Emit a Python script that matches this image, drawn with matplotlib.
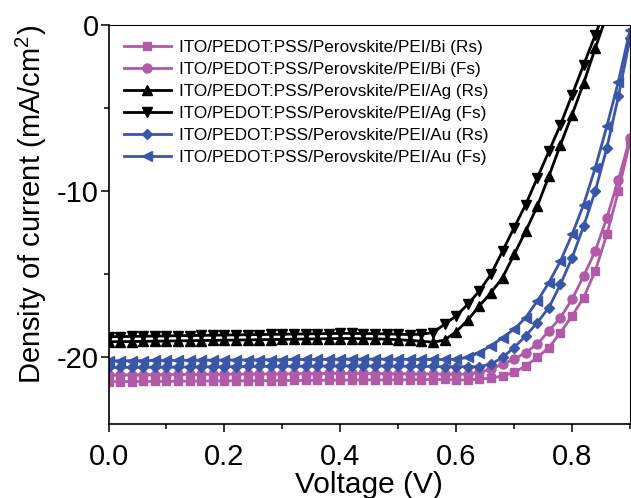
import numpy as np
import matplotlib
matplotlib.use("Agg")
import matplotlib.pyplot as plt

plt.rcParams['font.family'] = ['Liberation Sans', 'DejaVu Sans']
plt.rcParams['mathtext.fontset'] = 'custom'
plt.rcParams['mathtext.rm'] = 'Liberation Sans'
plt.rcParams['axes.unicode_minus'] = False

# Voltage sweep (V), 0.02 V step
voltage = np.linspace(0, 0.9, 46)

# Current density (mA/cm2)
bi_rs = [-21.45, -21.45, -21.45, -21.44, -21.44, -21.43, -21.43, -21.42, -21.42, -21.41,
         -21.41, -21.40, -21.40, -21.40, -21.39, -21.39, -21.38, -21.38, -21.37, -21.37,
         -21.36, -21.36, -21.35, -21.35, -21.35, -21.34, -21.34, -21.33, -21.33, -21.32,
         -21.35, -21.35, -21.3, -21.25, -21.1, -20.9, -20.5, -20.0, -19.4, -18.5,
         -17.5, -16.4, -14.8, -12.6, -10.0, -7.0]
bi_fs = [-21.05, -21.05, -21.04, -21.04, -21.03, -21.03, -21.02, -21.02, -21.01, -21.01,
         -21.0, -21.0, -21.0, -20.99, -20.99, -20.98, -20.98, -20.97, -20.97, -20.96,
         -20.96, -20.96, -20.96, -20.97, -20.97, -20.98, -20.98, -20.99, -20.99, -21.0,
         -21.0, -21.0, -20.9, -20.7, -20.4, -20.1, -19.7, -19.2, -18.4, -17.6,
         -16.5, -15.1, -13.6, -11.6, -9.3, -6.8]
ag_rs = [-19.05, -19.05, -19.04, -19.03, -19.02, -19.01, -19.0, -18.99, -18.98, -18.97,
         -18.96, -18.95, -18.94, -18.93, -18.92, -18.91, -18.9, -18.89, -18.88, -18.87,
         -18.86, -18.86, -18.87, -18.88, -18.9, -18.93, -18.97, -19.02, -19.08, -18.95,
         -18.45, -17.75, -16.9, -16.1, -15.2, -13.8, -12.4, -10.9, -9.1, -7.2,
         -5.4, -3.5, -1.4, 0.6]
ag_fs = [-18.75, -18.74, -18.73, -18.72, -18.71, -18.7, -18.69, -18.68, -18.67, -18.66,
         -18.65, -18.64, -18.63, -18.62, -18.61, -18.6, -18.59, -18.58, -18.57, -18.56,
         -18.55, -18.55, -18.56, -18.57, -18.58, -18.6, -18.62, -18.6, -18.5, -18.0,
         -17.5, -16.8, -16.0, -15.0, -13.6, -12.2, -10.8, -9.2, -7.6, -6.0,
         -4.2, -2.4, -0.6, 1.2]
au_rs = [-20.6, -20.6, -20.59, -20.59, -20.58, -20.58, -20.57, -20.57, -20.56, -20.56,
         -20.55, -20.55, -20.54, -20.54, -20.53, -20.53, -20.52, -20.52, -20.51, -20.51,
         -20.5, -20.5, -20.5, -20.51, -20.51, -20.52, -20.52, -20.53, -20.54, -20.55,
         -20.55, -20.55, -20.55, -20.4, -20.0, -19.4, -18.7, -17.9, -17.0, -15.6,
         -14.0, -12.1, -10.0, -7.4, -4.3, -0.8]
au_fs = [-20.2, -20.2, -20.19, -20.19, -20.18, -20.18, -20.17, -20.17, -20.16, -20.16,
         -20.15, -20.15, -20.14, -20.14, -20.13, -20.13, -20.12, -20.12, -20.11, -20.11,
         -20.1, -20.1, -20.1, -20.1, -20.1, -20.11, -20.11, -20.12, -20.12, -20.12,
         -20.1, -20.0, -19.7, -19.3, -18.8, -18.3, -17.6, -16.6, -15.5, -14.2,
         -12.6, -10.8, -8.6, -6.1, -3.4, -0.3]

labels = ["ITO/PEDOT:PSS/Perovskite/PEI/Bi (Rs)", "ITO/PEDOT:PSS/Perovskite/PEI/Bi (Fs)",
          "ITO/PEDOT:PSS/Perovskite/PEI/Ag (Rs)", "ITO/PEDOT:PSS/Perovskite/PEI/Ag (Fs)",
          "ITO/PEDOT:PSS/Perovskite/PEI/Au (Rs)", "ITO/PEDOT:PSS/Perovskite/PEI/Au (Fs)"]
series = [bi_rs, bi_fs, ag_rs, ag_fs, au_rs, au_fs]
colors = ["#b05aa8", "#b05aa8", "black", "black", "#3a56a8", "#3a56a8"]
markers = ["s", "o", "^", "v", "D", "<"]
msizes = [6, 6.5, 7.5, 7.5, 5.5, 7.5]

fig = plt.figure(figsize=(6.31, 4.98), dpi=100)
ax = fig.add_axes([0.172, 0.1486, 0.8264, 0.8012])

for y, c, m, ms, lab in zip(series, colors, markers, msizes, labels):
    ax.plot(voltage[:len(y)], y, color=c, marker=m, markersize=ms, linewidth=2.0, label=lab)

ax.set_xlim(0, 0.9)
ax.set_ylim(-24, 0)
ax.set_xticks([0.0, 0.2, 0.4, 0.6, 0.8])
ax.set_xticks([0.1, 0.3, 0.5, 0.7, 0.9], minor=True)
ax.set_yticks([0, -10, -20])
ax.set_yticks([-5, -15], minor=True)
ax.set_xticklabels(["0.0", "0.2", "0.4", "0.6", "0.8"])
ax.tick_params(which='major', direction='out', length=5.8, width=1.1, labelsize=21)
ax.tick_params(which='minor', direction='out', length=3.6, width=1.1)
ax.tick_params(axis='x', which='major', pad=8)
ax.tick_params(axis='y', which='major', pad=1)
for side in ['left', 'bottom']:
    ax.spines[side].set_linewidth(1.2)
for side in ['top', 'right']:
    ax.spines[side].set_linewidth(0.8)
ax.set_xlabel("Voltage (V)", fontsize=21.5, labelpad=0)
ax.set_ylabel("Density of current (mA/cm$^{2}$)", fontsize=21)
ax.yaxis.set_label_coords(-0.114, 0.551)

ax.legend(loc='upper left', frameon=False, fontsize=12.3, numpoints=1,
          handlelength=2.75, handletextpad=0.47, labelspacing=0.4,
          borderaxespad=0.5, borderpad=0.4)

plt.savefig("out.png", dpi=100)
